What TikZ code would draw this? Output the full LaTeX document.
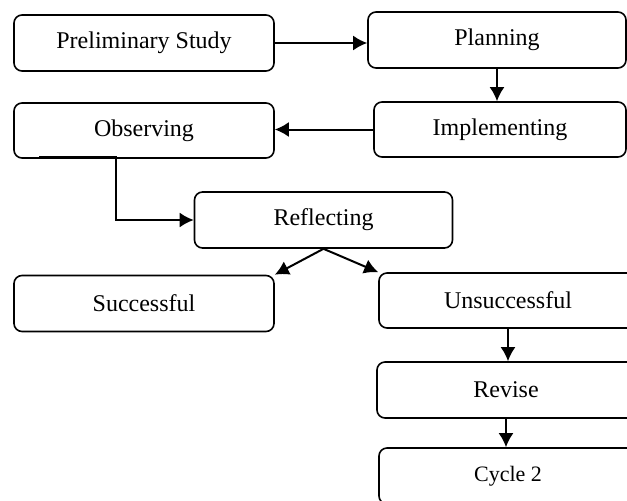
\documentclass[tikz,border=0pt]{standalone}
\usepackage{fontspec}
\setmainfont{Liberation Serif}
\usepackage{tikz}
\usetikzlibrary{arrows}
\usetikzlibrary{arrows.meta}
\usetikzlibrary{positioning}
\usetikzlibrary{calc}
\tikzstyle{stage}=[rectangle, rounded corners=4pt, draw=black, line width=0.8pt, fill=white, inner sep=0pt, minimum width=129pt, minimum height=28pt, font=\fontsize{12}{14}\selectfont]

\begin{document}
\begin{tikzpicture}[x=0.5pt, y=-0.5pt, >={Latex[length=7pt,width=7.5pt]}]
	\useasboundingbox (0,0) rectangle (627,500);
	\clip (0,0) rectangle (627,500);
			\node (prelim) at (144,43) [stage, minimum width=130pt] {Preliminary Study};
			\node (plan) at (497,40) [stage] {Planning};
			\node (impl) at (500,129.5) [stage, minimum width=126pt, minimum height=27.5pt] {Implementing};
			\node (observe) at (144,130.5) [stage, minimum width=130pt, minimum height=27.5pt] {Observing};
			\node (reflect) at (323.5,220) [stage] {Reflecting};
			\node (success) at (144,303.5) [stage, minimum width=130pt] {Successful};
			\node (unsucc) at (508,300.5) [stage, minimum height=27.5pt] {Unsuccessful};
			\node (revise) at (506,390) [stage] {Revise};
			\node (cycle) at (508,476) [stage, font=\fontsize{11}{13}\selectfont] {Cycle 2};
			\coordinate (obsstart) at (39,157);
			\coordinate (obsbend) at (116,157);
			\path[->, line width=1pt]
				(prelim.east) edge (prelim.east -| plan.west)
				(plan.south) edge (plan.south |- impl.north)
				(impl.west) edge (impl.west -| observe.east)
				(reflect.south) edge (success.north east)
				(reflect.south) edge (unsucc.north west)
				(unsucc.south) edge (unsucc.south |- revise.north)
				(revise.south) edge (revise.south |- cycle.north);
			\draw[->, line width=1pt] (obsstart) -- (obsbend) |- (reflect.west);
	\end{tikzpicture}
\end{document}
